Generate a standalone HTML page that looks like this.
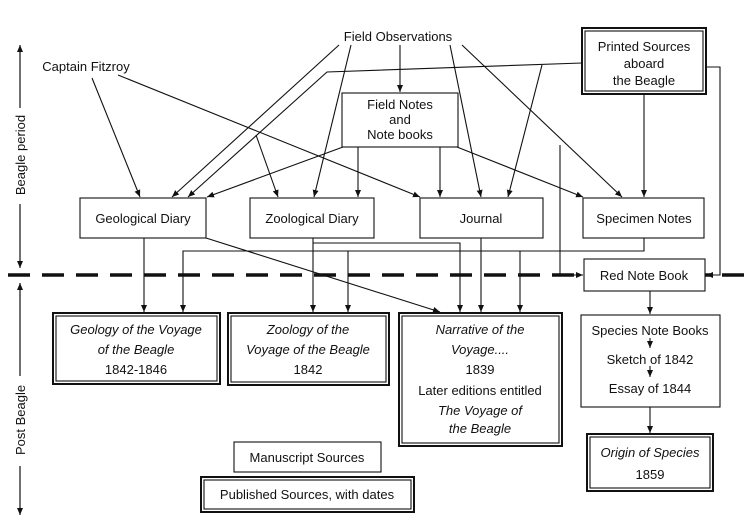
<!DOCTYPE html>
<html><head><meta charset="utf-8"><style>
html,body{margin:0;padding:0;background:#fff;}
svg{display:block;}
text{font-family:"Liberation Sans",sans-serif;font-size:13px;fill:#111;text-anchor:middle;}
.i{font-style:italic;}
</style></head><body>
<svg width="750" height="529" viewBox="0 0 750 529" xmlns="http://www.w3.org/2000/svg">
<defs><marker id="a" markerWidth="8" markerHeight="8" refX="7" refY="4" orient="auto" markerUnits="userSpaceOnUse"><path d="M0,1 L7,4 L0,7 z" fill="#111"/></marker></defs>
<g stroke="#111" stroke-width="1.1" fill="none">
<!-- dashed line -->
<line x1="8" y1="275" x2="750" y2="275" stroke-width="3.5" stroke-dasharray="22,12"/>
<!-- boxes -->
<rect x="582" y="28" width="124" height="66" stroke-width="2"/><rect x="585" y="31" width="118" height="60"/>
<rect x="342" y="93" width="116" height="54"/>
<rect x="80" y="198" width="126" height="40"/>
<rect x="250" y="198" width="124" height="40"/>
<rect x="420" y="198" width="123" height="40"/>
<rect x="583" y="198" width="121" height="40"/>
<rect x="584" y="259" width="121" height="32" fill="#fff"/>
<rect x="53" y="313" width="167" height="71" stroke-width="2"/><rect x="56" y="316" width="161" height="65"/>
<rect x="228" y="313" width="161" height="72" stroke-width="2"/><rect x="231" y="316" width="155" height="66"/>
<rect x="399" y="313" width="163" height="133" stroke-width="2"/><rect x="402" y="316" width="157" height="127"/>
<rect x="581" y="315" width="139" height="92"/>
<rect x="587" y="434" width="126" height="57" stroke-width="2"/><rect x="590" y="437" width="120" height="51"/>
<rect x="234" y="442" width="147" height="30"/>
<rect x="201" y="477" width="213" height="35" stroke-width="2"/><rect x="204" y="480" width="207" height="29"/>
<!-- axis -->
<line x1="20" y1="45" x2="20" y2="268" marker-end="url(#a)"/>
<line x1="20" y1="268" x2="20" y2="45" marker-end="url(#a)"/>
<line x1="20" y1="283" x2="20" y2="515" marker-end="url(#a)"/>
<line x1="20" y1="515" x2="20" y2="283" marker-end="url(#a)"/>
<!-- field observations -->
<line x1="400" y1="45" x2="400" y2="92" marker-end="url(#a)"/>
<line x1="339" y1="45" x2="172" y2="197" marker-end="url(#a)"/>
<line x1="351" y1="45" x2="314" y2="197" marker-end="url(#a)"/>
<line x1="450" y1="45" x2="481" y2="197" marker-end="url(#a)"/>
<line x1="462" y1="45" x2="622" y2="197" marker-end="url(#a)"/>
<!-- printed sources -->
<polyline points="582,63 327,72 188,197" marker-end="url(#a)"/>
<line x1="256" y1="135" x2="278" y2="197" marker-end="url(#a)"/>
<line x1="542" y1="65" x2="508" y2="197" marker-end="url(#a)"/>
<line x1="644" y1="94" x2="644" y2="197" marker-end="url(#a)"/>
<polyline points="706,67 720,67 720,275 706,275" marker-end="url(#a)"/>
<!-- fitzroy -->
<line x1="92" y1="78" x2="140" y2="197" marker-end="url(#a)"/>
<line x1="118" y1="75" x2="420" y2="197" marker-end="url(#a)"/>
<!-- field notes -->
<line x1="343" y1="147" x2="207" y2="197" marker-end="url(#a)"/>
<line x1="358" y1="147" x2="358" y2="197" marker-end="url(#a)"/>
<line x1="440" y1="147" x2="440" y2="197" marker-end="url(#a)"/>
<line x1="457" y1="147" x2="583" y2="197" marker-end="url(#a)"/>
<!-- lower -->
<polyline points="560,145 560,275 583,275" marker-end="url(#a)"/>
<line x1="144" y1="238" x2="144" y2="312" marker-end="url(#a)"/>
<polyline points="644,238 644,251 183,251 183,312" marker-end="url(#a)"/>
<line x1="348" y1="251" x2="348" y2="312" marker-end="url(#a)"/>
<line x1="520" y1="251" x2="520" y2="312" marker-end="url(#a)"/>
<line x1="313" y1="238" x2="313" y2="312" marker-end="url(#a)"/>
<polyline points="313,243 460,243 460,312" marker-end="url(#a)"/>
<line x1="481" y1="238" x2="481" y2="312" marker-end="url(#a)"/>
<line x1="206" y1="238" x2="440" y2="312" marker-end="url(#a)"/>
<line x1="650" y1="291" x2="650" y2="314" marker-end="url(#a)"/>
<line x1="650" y1="338" x2="650" y2="348" marker-end="url(#a)"/>
<line x1="650" y1="366" x2="650" y2="377" marker-end="url(#a)"/>
<line x1="650" y1="407" x2="650" y2="433" marker-end="url(#a)"/>
</g>
<rect x="332" y="26" width="136" height="18" fill="#fff"/>
<rect x="12" y="108" width="16" height="96" fill="#fff"/>
<rect x="12" y="376" width="16" height="90" fill="#fff"/>
<text x="398" y="41">Field Observations</text>
<text x="86" y="71">Captain Fitzroy</text>
<text x="644" y="51">Printed Sources</text>
<text x="644" y="68">aboard</text>
<text x="644" y="85">the Beagle</text>
<text x="400" y="109">Field Notes</text>
<text x="400" y="124">and</text>
<text x="400" y="139">Note books</text>
<text x="143" y="223">Geological Diary</text>
<text x="312" y="223">Zoological Diary</text>
<text x="481" y="223">Journal</text>
<text x="644" y="223">Specimen Notes</text>
<text x="644" y="280">Red Note Book</text>
<text class="i" x="136" y="334">Geology of the Voyage</text>
<text class="i" x="136" y="354">of the Beagle</text>
<text x="136" y="374">1842-1846</text>
<text class="i" x="308" y="334">Zoology of the</text>
<text class="i" x="308" y="354">Voyage of the Beagle</text>
<text x="308" y="374">1842</text>
<text class="i" x="480" y="334">Narrative of the</text>
<text class="i" x="480" y="354">Voyage....</text>
<text x="480" y="374">1839</text>
<text x="480" y="395">Later editions entitled</text>
<text class="i" x="480" y="415">The Voyage of</text>
<text class="i" x="480" y="433">the Beagle</text>
<text x="650" y="335">Species Note Books</text>
<text x="650" y="364">Sketch of 1842</text>
<text x="650" y="393">Essay of 1844</text>
<text class="i" x="650" y="457">Origin of Species</text>
<text x="650" y="479">1859</text>
<text x="307" y="462">Manuscript Sources</text>
<text x="307" y="499">Published Sources, with dates</text>
<text transform="translate(25,155) rotate(-90)">Beagle period</text>
<text transform="translate(25,420) rotate(-90)">Post Beagle</text>
</svg>
</body></html>
